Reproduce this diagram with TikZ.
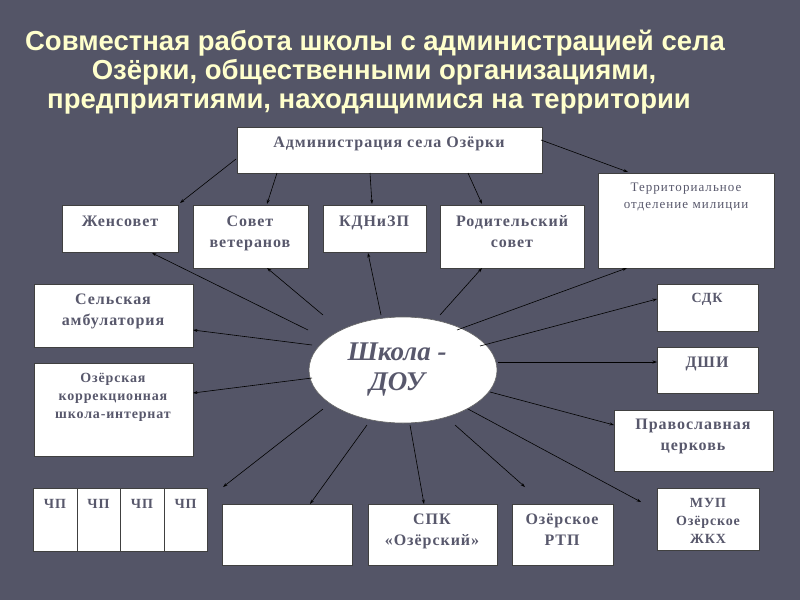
\documentclass[tikz,border=0pt]{standalone}
\usepackage{fontspec}
\setmainfont{Liberation Serif}
\newfontfamily\titlefont{Liberation Sans}
\usetikzlibrary{arrows.meta,shapes.geometric}
\definecolor{bg}{RGB}{84,85,103}
\definecolor{ttl}{RGB}{255,255,204}
\definecolor{txt}{RGB}{88,88,108}
\begin{document}
\begin{tikzpicture}[x=1pt,y=-1pt,
  box/.style={draw=black!75, fill=white, line width=0.8pt, anchor=north west, inner sep=0, outer sep=0},
  lbl/.style={text=txt, font=\fontsize{16}{21}\selectfont\bfseries\addfontfeature{LetterSpace=6}, align=center, anchor=base, inner sep=0},
  small/.style={lbl, font=\fontsize{14}{18}\selectfont\bfseries\addfontfeature{LetterSpace=6}},
  thin/.style={lbl, font=\fontsize{13}{17}\selectfont\addfontfeature{LetterSpace=8}},
  ttlstyle/.style={text=ttl, font=\titlefont\fontsize{27.5}{29}\selectfont\bfseries, align=center, anchor=base, inner sep=0},
  arr/.style={draw=black, line width=0.6pt, -{Stealth[length=4.5pt,width=3pt]}}
]
\useasboundingbox (0,0) rectangle (800,600);
\fill[bg] (0,0) rectangle (800,600);

% title
\node[ttlstyle] (t1) at (375,50) {Совместная работа школы с администрацией села};
\node[ttlstyle] (t2) at (374,79) {Озёрки, общественными организациями,};
\node[ttlstyle] (t3) at (369,108) {предприятиями, находящимися на территории};

% boxes
\node[box, minimum width=305, minimum height=46] (adm) at (237,127) {};
\node[box, minimum width=176, minimum height=95] (mil) at (598,173) {};
\node[box, minimum width=116, minimum height=47] (zhen) at (62,205) {};
\node[box, minimum width=115, minimum height=63] (vet) at (193,205) {};
\node[box, minimum width=103, minimum height=47] (kdn) at (323,205) {};
\node[box, minimum width=144, minimum height=63] (rod) at (440,205) {};
\node[box, minimum width=159, minimum height=63] (amb) at (34,284) {};
\node[box, minimum width=159, minimum height=93] (korr) at (34,363) {};
\node[box, minimum width=101, minimum height=47] (sdk) at (657,284) {};
\node[box, minimum width=101, minimum height=46] (dshi) at (657,347) {};
\node[box, minimum width=159, minimum height=61] (cerk) at (614,410) {};
\node[box, minimum width=102, minimum height=62] (mup) at (657,488) {};
\node[box, minimum width=44, minimum height=63] (ch1) at (33,488) {};
\node[box, minimum width=43, minimum height=63] (ch2) at (77,488) {};
\node[box, minimum width=44, minimum height=63] (ch3) at (120,488) {};
\node[box, minimum width=43, minimum height=63] (ch4) at (164,488) {};
\node[box, minimum width=130, minimum height=61] (empty) at (222,504) {};
\node[box, minimum width=129, minimum height=61] (spk) at (368,504) {};
\node[box, minimum width=101, minimum height=61] (rtp) at (512,504) {};
\node[draw=black!60, fill=white, ellipse, line width=0.6pt, minimum width=188, minimum height=106, inner sep=0] (school) at (403,370) {};

% labels (anchor = baseline of last line)
\node[lbl] (admt) at (389,147) {Администрация села Озёрки};
\node[thin] (milt) at (686,208) {Территориальное\\отделение милиции};
\node[lbl] (zhent) at (120,226) {Женсовет};
\node[lbl] (vett) at (250,247) {Совет\\ветеранов};
\node[lbl] (kdnt) at (374,226) {КДНиЗП};
\node[lbl] (rodt) at (512,247) {Родительский\\совет};
\node[lbl] (ambt) at (113,325) {Сельская\\амбулатория};
\node[small] (korrt) at (113,418) {Озёрская\\коррекционная\\школа-интернат};
\node[small] (sdkt) at (707,302) {СДК};
\node[lbl] (dshit) at (707,367) {ДШИ};
\node[lbl] (cerkt) at (693,450) {Православная\\церковь};
\node[small] (mupt) at (708,543) {МУП\\Озёрское\\ЖКХ};
\node[small] (ch1t) at (55,508) {ЧП};
\node[small] (ch2t) at (98.5,508) {ЧП};
\node[small] (ch3t) at (142,508) {ЧП};
\node[small] (ch4t) at (185.5,508) {ЧП};
\node[lbl] (spkt) at (432,545) {СПК\\«Озёрский»};
\node[lbl] (rtpt) at (562,545) {Озёрское\\РТП};
\node[text=txt, font=\fontsize{27}{30}\selectfont\bfseries\itshape, align=center, anchor=base, inner sep=0] (schoolt) at (397,390) {Школа -\\ДОУ};

% connector end points
\coordinate (a1) at (236,159); \coordinate (b1) at (180,203);
\coordinate (a2) at (277,173); \coordinate (b2) at (267,204);
\coordinate (a3) at (370,173); \coordinate (b3) at (372,204);
\coordinate (a4) at (468,173); \coordinate (b4) at (482,204);
\coordinate (a5) at (541,140); \coordinate (b5) at (628,172);

\coordinate (s1) at (308,330); \coordinate (e1) at (152,253);
\coordinate (s2) at (323,315); \coordinate (e2) at (267,268);
\coordinate (s3) at (381,315); \coordinate (e3) at (368,253);
\coordinate (s4) at (440,315); \coordinate (e4) at (482,268);
\coordinate (s5) at (457,330); \coordinate (e5) at (627,268);
\coordinate (s6) at (480,346); \coordinate (e6) at (657,299);
\coordinate (s7) at (498,362); \coordinate (e7) at (657,362);
\coordinate (s8) at (490,392); \coordinate (e8) at (614,425);
\coordinate (s9) at (468,409); \coordinate (e9) at (641,502);
\coordinate (s10) at (455,425); \coordinate (e10) at (525,487);
\coordinate (s11) at (410,425); \coordinate (e11) at (424,504);
\coordinate (s12) at (367,425); \coordinate (e12) at (310,504);
\coordinate (s13) at (323,409); \coordinate (e13) at (223,487);
\coordinate (s14) at (312,378); \coordinate (e14) at (193,393);
\coordinate (s15) at (312,345); \coordinate (e15) at (193,330);

\foreach \i in {1,...,5} \draw[arr] (a\i) -- (b\i);
\foreach \i in {1,...,15} \draw[arr] (s\i) -- (e\i);
\end{tikzpicture}
\end{document}
